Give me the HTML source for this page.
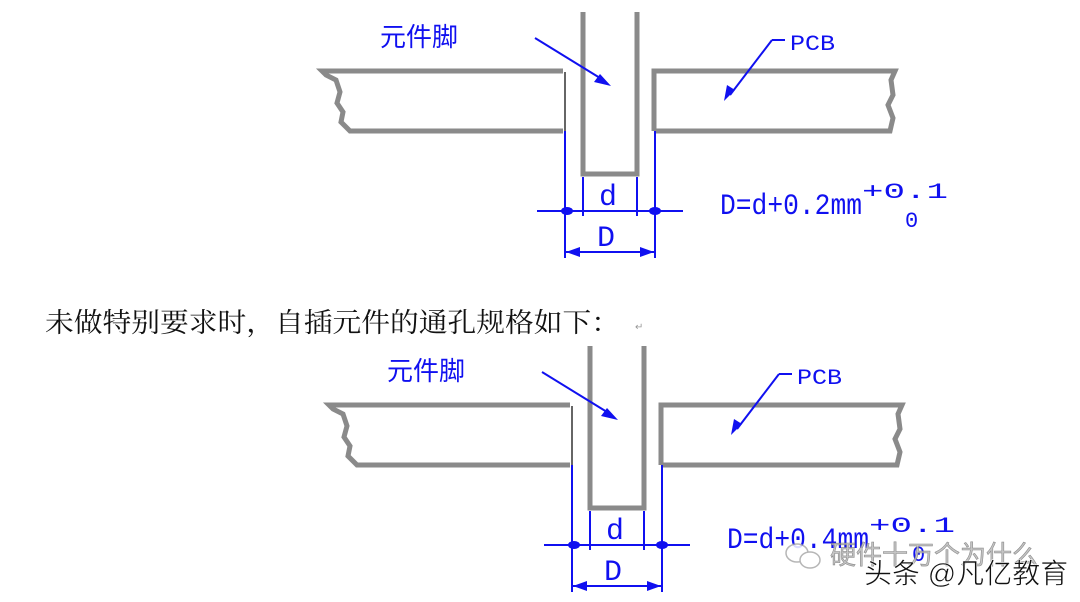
<!DOCTYPE html>
<html><head><meta charset="utf-8"><style>
html,body{margin:0;padding:0;background:#fff;width:1080px;height:602px;overflow:hidden}
</style></head><body>
<svg width="1080" height="602" viewBox="0 0 1080 602" xmlns="http://www.w3.org/2000/svg">
<defs>
<g id="dia">
  <path d="M563,71 H322 L326,75 L336,80 L340,92 L337,103 L343,112 L341,122 L350,131 H563" fill="none" stroke="#8a8a8a" stroke-width="5"/>
  <path d="M654,131 V71 H895 L891,80 L893,95 L888,105 L893,118 L890,131 H654" fill="none" stroke="#8a8a8a" stroke-width="5"/>
  <line x1="565" y1="72" x2="565" y2="131" stroke="#333" stroke-width="1.5"/>
  <path d="M583,12 V174 H637 V12" fill="none" stroke="#8a8a8a" stroke-width="5"/>
  <g stroke="#1010f0" stroke-width="2" fill="none">
    <line x1="565" y1="131" x2="565" y2="258"/>
    <line x1="655" y1="131" x2="655" y2="258"/>
    <line x1="583" y1="177" x2="583" y2="216"/>
    <line x1="637" y1="177" x2="637" y2="216"/>
    <line x1="537" y1="211" x2="683" y2="211"/>
    <line x1="565" y1="252" x2="655" y2="252"/>
    <line x1="535" y1="38" x2="600" y2="78"/>
    <line x1="772" y1="40" x2="730" y2="95"/>
  </g>
  <g fill="#1010f0">
    <ellipse cx="567" cy="211" rx="6" ry="4"/>
    <ellipse cx="655" cy="211" rx="6" ry="4"/>
    <polygon points="566,252 580,247 580,257"/>
    <polygon points="654,252 640,247 640,257"/>
    <polygon points="611,86 594,82 600,74"/>
    <polygon points="724,101 727,85 735,90"/>
  </g>
  <line x1="772" y1="40" x2="785" y2="40" stroke="#1010f0" stroke-width="2"/>
  <g fill="#1010f0" font-family="Liberation Mono, monospace">
    <text x="599" y="205" font-size="30">d</text>
    <text x="597" y="246" font-size="30">D</text>
    <text x="790" y="50" font-size="22" textLength="45" lengthAdjust="spacingAndGlyphs">PCB</text>
  </g>
  <text x="380" y="46" font-size="26" fill="#1010f0" font-family="Liberation Sans, Noto Sans CJK SC, sans-serif">元件脚</text>
</g>
</defs>
<use href="#dia"/>
<text x="720" y="214" font-size="30" fill="#1010f0" font-family="Liberation Mono, monospace" textLength="142" lengthAdjust="spacingAndGlyphs">D=d+0.2mm</text>
<text x="862" y="198" font-size="22" fill="#1010f0" font-family="Liberation Mono, monospace" textLength="86" lengthAdjust="spacingAndGlyphs">+0.1</text>
<text x="905" y="227" font-size="22" fill="#1010f0" font-family="Liberation Mono, monospace">0</text>
<text x="45" y="332" font-size="27" fill="#111" font-family="Liberation Serif, Noto Serif CJK SC, serif" textLength="575" lengthAdjust="spacingAndGlyphs">未做特别要求时，自插元件的通孔规格如下：</text>
<text x="635" y="330" font-size="10" fill="#999" font-family="Liberation Sans, sans-serif">↵</text>
<g transform="translate(7,334)"><use href="#dia"/></g>
<text x="727" y="548" font-size="30" fill="#1010f0" font-family="Liberation Mono, monospace" textLength="142" lengthAdjust="spacingAndGlyphs">D=d+0.4mm</text>
<text x="869" y="532" font-size="22" fill="#1010f0" font-family="Liberation Mono, monospace" textLength="86" lengthAdjust="spacingAndGlyphs">+0.1</text>
<text x="912" y="561" font-size="22" fill="#1010f0" font-family="Liberation Mono, monospace">0</text>
<g opacity="0.85">
  <ellipse cx="797" cy="553" rx="11" ry="9" fill="#fff" stroke="#aaa" stroke-width="1.5"/>
  <ellipse cx="810" cy="560" rx="10" ry="8" fill="#fff" stroke="#aaa" stroke-width="1.5"/>
  <text x="830" y="564" font-size="26" fill="#bbb" stroke="#777" stroke-width="0.6" font-family="Liberation Sans, Noto Sans CJK SC, sans-serif">硬件十万个为什么</text>
</g>
<text x="864" y="583" font-size="28" fill="#111" stroke="#fff" stroke-width="0.6" font-family="Liberation Sans, Noto Sans CJK SC, sans-serif">头条 @凡亿教育</text>
</svg>
</body></html>
